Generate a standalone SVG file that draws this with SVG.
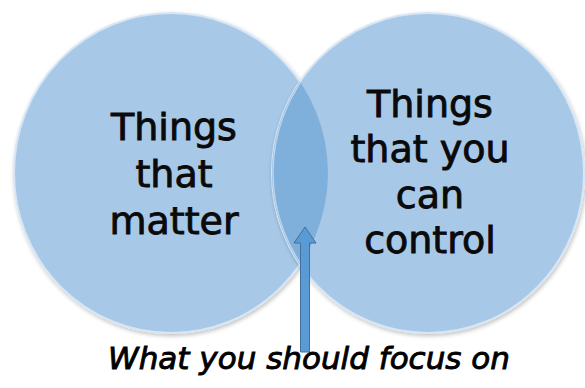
<svg xmlns="http://www.w3.org/2000/svg" width="585" height="388" viewBox="0 0 585 388">
<defs>
<style>
.circle{fill:#a8c8e7;stroke:#d6e6f5;stroke-width:2}
.label{font-family:"DejaVu Sans",sans-serif;font-size:38px;fill:#0a0a0a;stroke:#0a0a0a;stroke-width:0.9;text-anchor:middle}
.caption{font-family:"DejaVu Sans",sans-serif;font-style:italic;font-size:31px;fill:#000;stroke:#000;stroke-width:0.9;text-anchor:middle}
</style>
<clipPath id="clipL"><ellipse cx="171" cy="173" rx="157" ry="160"/></clipPath>
<filter id="sh" x="-10%" y="-10%" width="120%" height="120%"><feGaussianBlur in="SourceAlpha" stdDeviation="2"/><feOffset dx="1" dy="2"/><feComponentTransfer><feFuncA type="linear" slope="0.25"/></feComponentTransfer><feMerge><feMergeNode/><feMergeNode in="SourceGraphic"/></feMerge></filter>
</defs>
<rect width="585" height="388" fill="#ffffff"/>
<g id="left-circle">
<ellipse class="circle" cx="171" cy="173" rx="157" ry="160" filter="url(#sh)"/>
</g>
<g id="right-circle">
<ellipse class="circle" cx="428" cy="173" rx="156" ry="160" filter="url(#sh)"/>
</g>
<g id="overlap">
<ellipse cx="428" cy="173" rx="156" ry="160" fill="#7fb0dc" clip-path="url(#clipL)"/>
<ellipse cx="428" cy="173" rx="155" ry="159" fill="none" stroke="#b9d3ec" stroke-width="1.5" clip-path="url(#clipL)"/>
</g>
<g id="left-label">
<text class="label" x="174" y="140">Things</text>
<text class="label" x="174" y="187">that</text>
<text class="label" x="174" y="234">matter</text>
</g>
<g id="right-label">
<text class="label" x="430" y="117">Things</text>
<text class="label" x="430" y="162">that you</text>
<text class="label" x="430" y="208">can</text>
<text class="label" x="430" y="253">control</text>
</g>
<g id="connectors">
<polygon points="305,227 316,243 309.5,243 309.5,352 300.5,352 300.5,243 294,243" fill="#5b9bd5" stroke="#41719c" stroke-width="1"/>
</g>
<g id="caption">
<text class="caption" x="309" y="369">What you should focus on</text>
</g>
</svg>
